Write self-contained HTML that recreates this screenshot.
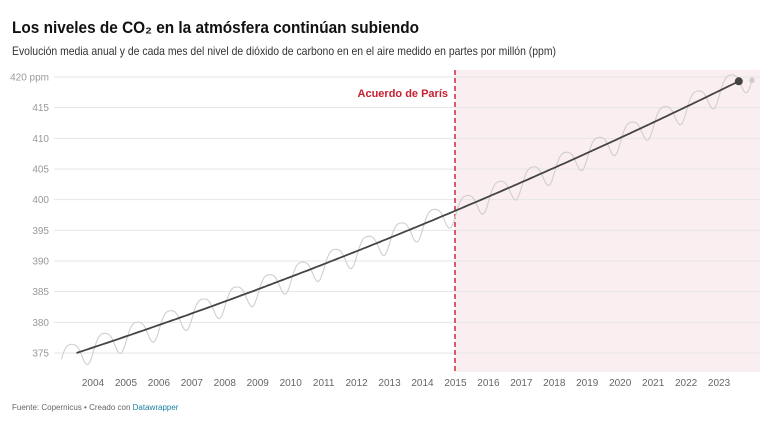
<!DOCTYPE html><html><head><meta charset="utf-8"><style>
body{margin:0;width:779px;height:435px;background:#fff;font-family:"Liberation Sans",sans-serif;overflow:hidden}
</style></head><body>
<svg width="779" height="435" xmlns="http://www.w3.org/2000/svg" style="position:absolute;left:0;top:0">
<text x="12" y="33" font-size="17" font-weight="bold" fill="#111" textLength="407" lengthAdjust="spacingAndGlyphs">Los niveles de CO₂ en la atmósfera continúan subiendo</text>
<text x="12" y="55" font-size="12" fill="#333" textLength="544" lengthAdjust="spacingAndGlyphs">Evolución media anual y de cada mes del nivel de dióxido de carbono en en el aire medido en partes por millón (ppm)</text>
<rect x="455" y="70" width="305" height="302" fill="#fbeef0"/>
<g id="grid" stroke="#e6e6e6" stroke-width="1"></g>
<g id="yl" font-size="10" fill="#999" text-anchor="end"></g>
<g id="xl" font-size="10" fill="#666" text-anchor="middle"></g>
<line x1="455" y1="70" x2="455" y2="372" stroke="#d0283a" stroke-width="1.5" stroke-dasharray="5,3"/>
<text x="448" y="97" font-size="11" font-weight="bold" fill="#c8202f" text-anchor="end">Acuerdo de París</text>
<path id="m" fill="none" stroke="#cfcfcf" stroke-width="1.1"/>
<path id="a" fill="none" stroke="#444" stroke-width="1.8"/>
<circle id="ad" r="4" fill="#444"/>
<circle id="md" r="2.8" fill="#ccc"/>
<text x="12" y="410" font-size="8" fill="#666">Fuente: Copernicus • Creado con <tspan fill="#1d81a2">Datawrapper</tspan></text>
</svg>
<script>
var X=t=>93+(t-2004)*32.95, Y=v=>77+(420-v)*6.133;
var g=document.getElementById('grid'),yl=document.getElementById('yl'),xl=document.getElementById('xl'),h='',l='';
for(var v=375;v<=420;v+=5){h+='<line x1="54" x2="760" y1="'+Y(v)+'" y2="'+Y(v)+'"/>';l+='<text x="49" y="'+(Y(v)+3.5)+'">'+v+(v==420?' ppm':'')+'</text>';}
g.innerHTML=h;yl.innerHTML=l;
var xs='';for(var y=2004;y<=2023;y++)xs+='<text x="'+X(y)+'" y="386">'+y+'</text>';xl.innerHTML=xs;
var tr=t=>{var d=t-2003.5;return 375+1.768*d+0.0217*d*d};
var S=t=>2.1*Math.cos(2*Math.PI*(t-0.33))+0.4*Math.cos(4*Math.PI*(t-0.1));
var m='';for(var t=2003.04;t<=2024.0;t+=1/24){m+=(m?'L':'M')+X(t).toFixed(1)+','+Y(tr(t)+S(t)).toFixed(1);}
document.getElementById('m').setAttribute('d',m);
var a='';for(var t=2003.5;t<=2023.6;t+=0.1){a+=(a?'L':'M')+X(t).toFixed(1)+','+Y(tr(t)).toFixed(1);}
document.getElementById('a').setAttribute('d',a);
var ad=document.getElementById('ad');ad.setAttribute('cx',X(2023.6));ad.setAttribute('cy',Y(tr(2023.6)));
var t2=2024.0;
var md=document.getElementById('md');md.setAttribute('cx',X(t2));md.setAttribute('cy',Y(tr(t2)+S(t2)));
</script>
</body></html>
